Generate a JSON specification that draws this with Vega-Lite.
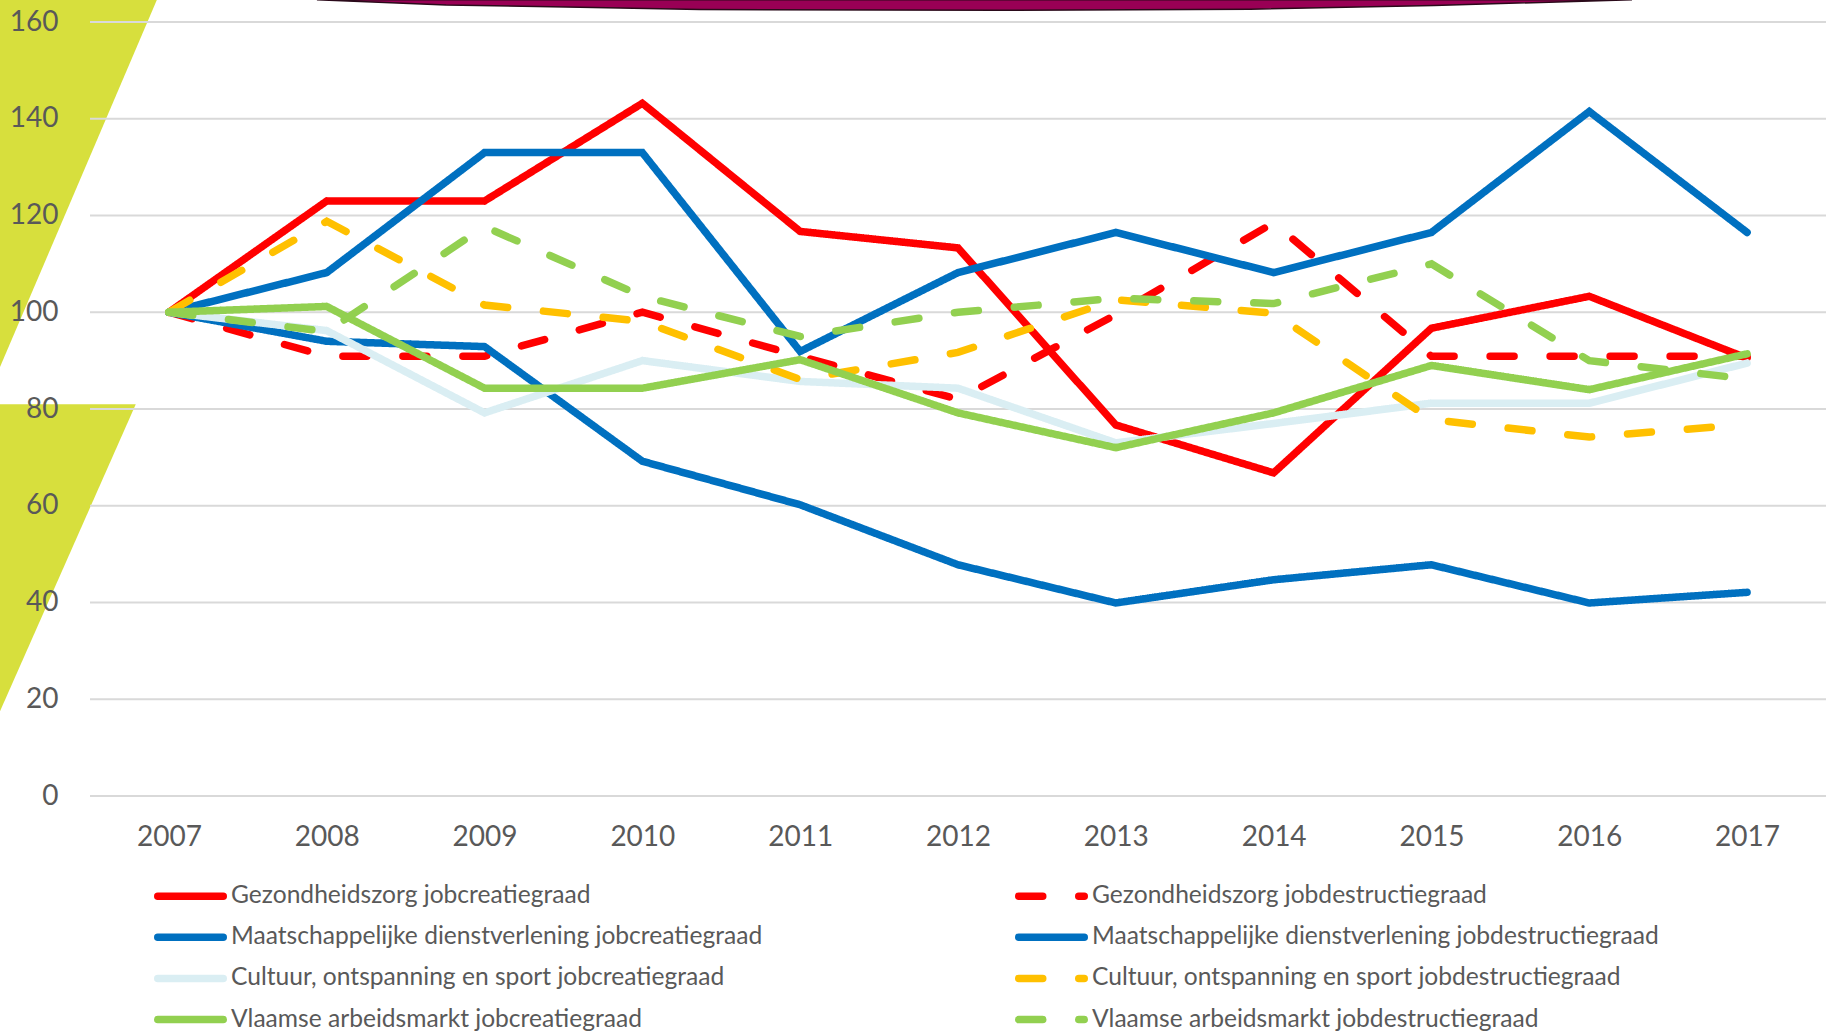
{
  "$schema": "https://vega.github.io/schema/vega-lite/v6.json",
  "width": 1736,
  "height": 774,
  "autosize": {"type": "none"},
  "padding": {"left": 90, "top": 22, "right": 0, "bottom": 237},
  "background": "white",
  "config": {"view": {"stroke": null}, "font": "Lato"},
  "datasets": {
    "rates": [
      {"year": 2007, "series": "Gezondheidszorg jobcreatiegraad", "value": 100},
      {"year": 2008, "series": "Gezondheidszorg jobcreatiegraad", "value": 123.0},
      {"year": 2009, "series": "Gezondheidszorg jobcreatiegraad", "value": 123.0},
      {"year": 2010, "series": "Gezondheidszorg jobcreatiegraad", "value": 143.2},
      {"year": 2011, "series": "Gezondheidszorg jobcreatiegraad", "value": 116.7},
      {"year": 2012, "series": "Gezondheidszorg jobcreatiegraad", "value": 113.3},
      {"year": 2013, "series": "Gezondheidszorg jobcreatiegraad", "value": 76.7},
      {"year": 2014, "series": "Gezondheidszorg jobcreatiegraad", "value": 66.8},
      {"year": 2015, "series": "Gezondheidszorg jobcreatiegraad", "value": 96.7},
      {"year": 2016, "series": "Gezondheidszorg jobcreatiegraad", "value": 103.3},
      {"year": 2017, "series": "Gezondheidszorg jobcreatiegraad", "value": 90.5},
      {"year": 2007, "series": "Gezondheidszorg jobdestructiegraad", "value": 100},
      {"year": 2008, "series": "Gezondheidszorg jobdestructiegraad", "value": 90.9},
      {"year": 2009, "series": "Gezondheidszorg jobdestructiegraad", "value": 90.9},
      {"year": 2010, "series": "Gezondheidszorg jobdestructiegraad", "value": 100.0},
      {"year": 2011, "series": "Gezondheidszorg jobdestructiegraad", "value": 90.9},
      {"year": 2012, "series": "Gezondheidszorg jobdestructiegraad", "value": 82.0},
      {"year": 2013, "series": "Gezondheidszorg jobdestructiegraad", "value": 99.5},
      {"year": 2014, "series": "Gezondheidszorg jobdestructiegraad", "value": 118.5},
      {"year": 2015, "series": "Gezondheidszorg jobdestructiegraad", "value": 90.9},
      {"year": 2016, "series": "Gezondheidszorg jobdestructiegraad", "value": 90.9},
      {"year": 2017, "series": "Gezondheidszorg jobdestructiegraad", "value": 90.9},
      {"year": 2007, "series": "Maatschappelijke dienstverlening jobcreatiegraad", "value": 100},
      {"year": 2008, "series": "Maatschappelijke dienstverlening jobcreatiegraad", "value": 94.0},
      {"year": 2009, "series": "Maatschappelijke dienstverlening jobcreatiegraad", "value": 92.9},
      {"year": 2010, "series": "Maatschappelijke dienstverlening jobcreatiegraad", "value": 69.2},
      {"year": 2011, "series": "Maatschappelijke dienstverlening jobcreatiegraad", "value": 60.2},
      {"year": 2012, "series": "Maatschappelijke dienstverlening jobcreatiegraad", "value": 47.8},
      {"year": 2013, "series": "Maatschappelijke dienstverlening jobcreatiegraad", "value": 39.9},
      {"year": 2014, "series": "Maatschappelijke dienstverlening jobcreatiegraad", "value": 44.7},
      {"year": 2015, "series": "Maatschappelijke dienstverlening jobcreatiegraad", "value": 47.8},
      {"year": 2016, "series": "Maatschappelijke dienstverlening jobcreatiegraad", "value": 39.9},
      {"year": 2017, "series": "Maatschappelijke dienstverlening jobcreatiegraad", "value": 42.1},
      {"year": 2007, "series": "Maatschappelijke dienstverlening jobdestructiegraad", "value": 100},
      {"year": 2008, "series": "Maatschappelijke dienstverlening jobdestructiegraad", "value": 108.2},
      {"year": 2009, "series": "Maatschappelijke dienstverlening jobdestructiegraad", "value": 133.0},
      {"year": 2010, "series": "Maatschappelijke dienstverlening jobdestructiegraad", "value": 133.0},
      {"year": 2011, "series": "Maatschappelijke dienstverlening jobdestructiegraad", "value": 91.9},
      {"year": 2012, "series": "Maatschappelijke dienstverlening jobdestructiegraad", "value": 108.2},
      {"year": 2013, "series": "Maatschappelijke dienstverlening jobdestructiegraad", "value": 116.5},
      {"year": 2014, "series": "Maatschappelijke dienstverlening jobdestructiegraad", "value": 108.2},
      {"year": 2015, "series": "Maatschappelijke dienstverlening jobdestructiegraad", "value": 116.5},
      {"year": 2016, "series": "Maatschappelijke dienstverlening jobdestructiegraad", "value": 141.5},
      {"year": 2017, "series": "Maatschappelijke dienstverlening jobdestructiegraad", "value": 116.5},
      {"year": 2007, "series": "Cultuur, ontspanning en sport jobcreatiegraad", "value": 100},
      {"year": 2008, "series": "Cultuur, ontspanning en sport jobcreatiegraad", "value": 96.2},
      {"year": 2009, "series": "Cultuur, ontspanning en sport jobcreatiegraad", "value": 79.2},
      {"year": 2010, "series": "Cultuur, ontspanning en sport jobcreatiegraad", "value": 90.0},
      {"year": 2011, "series": "Cultuur, ontspanning en sport jobcreatiegraad", "value": 85.7},
      {"year": 2012, "series": "Cultuur, ontspanning en sport jobcreatiegraad", "value": 84.3},
      {"year": 2013, "series": "Cultuur, ontspanning en sport jobcreatiegraad", "value": 73.0},
      {"year": 2014, "series": "Cultuur, ontspanning en sport jobcreatiegraad", "value": 77.0},
      {"year": 2015, "series": "Cultuur, ontspanning en sport jobcreatiegraad", "value": 81.2},
      {"year": 2016, "series": "Cultuur, ontspanning en sport jobcreatiegraad", "value": 81.2},
      {"year": 2017, "series": "Cultuur, ontspanning en sport jobcreatiegraad", "value": 89.5},
      {"year": 2007, "series": "Cultuur, ontspanning en sport jobdestructiegraad", "value": 100},
      {"year": 2008, "series": "Cultuur, ontspanning en sport jobdestructiegraad", "value": 118.8},
      {"year": 2009, "series": "Cultuur, ontspanning en sport jobdestructiegraad", "value": 101.5},
      {"year": 2010, "series": "Cultuur, ontspanning en sport jobdestructiegraad", "value": 98.1},
      {"year": 2011, "series": "Cultuur, ontspanning en sport jobdestructiegraad", "value": 86.1},
      {"year": 2012, "series": "Cultuur, ontspanning en sport jobdestructiegraad", "value": 91.7},
      {"year": 2013, "series": "Cultuur, ontspanning en sport jobdestructiegraad", "value": 102.6},
      {"year": 2014, "series": "Cultuur, ontspanning en sport jobdestructiegraad", "value": 99.8},
      {"year": 2015, "series": "Cultuur, ontspanning en sport jobdestructiegraad", "value": 77.8},
      {"year": 2016, "series": "Cultuur, ontspanning en sport jobdestructiegraad", "value": 74.2},
      {"year": 2017, "series": "Cultuur, ontspanning en sport jobdestructiegraad", "value": 76.8},
      {"year": 2007, "series": "Vlaamse arbeidsmarkt jobcreatiegraad", "value": 100},
      {"year": 2008, "series": "Vlaamse arbeidsmarkt jobcreatiegraad", "value": 101.2},
      {"year": 2009, "series": "Vlaamse arbeidsmarkt jobcreatiegraad", "value": 84.3},
      {"year": 2010, "series": "Vlaamse arbeidsmarkt jobcreatiegraad", "value": 84.3},
      {"year": 2011, "series": "Vlaamse arbeidsmarkt jobcreatiegraad", "value": 90.2},
      {"year": 2012, "series": "Vlaamse arbeidsmarkt jobcreatiegraad", "value": 79.2},
      {"year": 2013, "series": "Vlaamse arbeidsmarkt jobcreatiegraad", "value": 72.0},
      {"year": 2014, "series": "Vlaamse arbeidsmarkt jobcreatiegraad", "value": 79.2},
      {"year": 2015, "series": "Vlaamse arbeidsmarkt jobcreatiegraad", "value": 89.0},
      {"year": 2016, "series": "Vlaamse arbeidsmarkt jobcreatiegraad", "value": 84.0},
      {"year": 2017, "series": "Vlaamse arbeidsmarkt jobcreatiegraad", "value": 91.4},
      {"year": 2007, "series": "Vlaamse arbeidsmarkt jobdestructiegraad", "value": 100},
      {"year": 2008, "series": "Vlaamse arbeidsmarkt jobdestructiegraad", "value": 96.0},
      {"year": 2009, "series": "Vlaamse arbeidsmarkt jobdestructiegraad", "value": 117.7},
      {"year": 2010, "series": "Vlaamse arbeidsmarkt jobdestructiegraad", "value": 103.3},
      {"year": 2011, "series": "Vlaamse arbeidsmarkt jobdestructiegraad", "value": 95.0},
      {"year": 2012, "series": "Vlaamse arbeidsmarkt jobdestructiegraad", "value": 100.0},
      {"year": 2013, "series": "Vlaamse arbeidsmarkt jobdestructiegraad", "value": 102.9},
      {"year": 2014, "series": "Vlaamse arbeidsmarkt jobdestructiegraad", "value": 101.8},
      {"year": 2015, "series": "Vlaamse arbeidsmarkt jobdestructiegraad", "value": 110.0},
      {"year": 2016, "series": "Vlaamse arbeidsmarkt jobdestructiegraad", "value": 90.0},
      {"year": 2017, "series": "Vlaamse arbeidsmarkt jobdestructiegraad", "value": 86.2}
    ],
    "gridlines": [
      {"v": 0}, {"v": 20}, {"v": 40}, {"v": 60}, {"v": 80},
      {"v": 100}, {"v": 120}, {"v": 140}, {"v": 160}
    ],
    "wedges": [
      {"shape": "a", "v": 164.6, "x0": 2005.9, "x1": 2006.924},
      {"shape": "a", "v": 86.4, "x0": 2005.9, "x1": 2005.9},
      {"shape": "b", "v": 81.0, "x0": 2005.9, "x1": 2006.79},
      {"shape": "b", "v": 15.3, "x0": 2005.9, "x1": 2005.9}
    ],
    "banner": [
      {"x": 2007.938, "b": 164.6, "t": 164.6},
      {"x": 2008.756, "b": 163.52, "t": 164.6},
      {"x": 2009.605, "b": 163.04, "t": 164.6},
      {"x": 2010.365, "b": 162.59, "t": 164.6},
      {"x": 2012.266, "b": 162.42, "t": 164.6},
      {"x": 2013.85, "b": 162.63, "t": 164.6},
      {"x": 2015.016, "b": 163.41, "t": 164.6},
      {"x": 2016.271, "b": 164.6, "t": 164.6}
    ]
  },
  "layer": [
    {
      "data": {"name": "wedges"},
      "mark": {"type": "area", "orient": "horizontal", "color": "#D7DF3D"},
      "encoding": {
        "y": {"field": "v", "type": "quantitative", "title": null, "scale": {"domain": [0, 160], "nice": false}},
        "x": {"field": "x0", "type": "quantitative", "title": null, "scale": {"domain": [2006.5, 2017.5], "nice": false, "zero": false}},
        "x2": {"field": "x1"},
        "detail": {"field": "shape", "type": "nominal"}
      }
    },
    {
      "data": {"name": "banner"},
      "mark": {"type": "area", "color": "#990055", "stroke": "#2a0a1a", "strokeWidth": 1.5},
      "encoding": {
        "x": {"field": "x", "type": "quantitative", "title": null, "scale": {"domain": [2006.5, 2017.5], "nice": false, "zero": false}},
        "y": {"field": "b", "type": "quantitative", "title": null, "scale": {"domain": [0, 160], "nice": false}},
        "y2": {"field": "t"}
      }
    },
    {
      "data": {"name": "gridlines"},
      "mark": {"type": "rule", "color": "#D9D9D9", "strokeWidth": 2},
      "encoding": {
        "y": {"field": "v", "type": "quantitative", "title": null, "scale": {"domain": [0, 160], "nice": false}}
      }
    },
    {
      "data": {"name": "rates"},
      "mark": {"type": "line", "strokeCap": "round"},
      "encoding": {
        "x": {
          "field": "year", "type": "quantitative", "title": null,
          "scale": {"domain": [2006.5, 2017.5], "nice": false, "zero": false},
          "axis": {
            "values": [2007, 2008, 2009, 2010, 2011, 2012, 2013, 2014, 2015, 2016, 2017],
            "format": "d", "title": null, "domain": false, "ticks": false, "tickSize": 0, "grid": false,
            "labelFont": "Lato", "labelFontSize": 28, "labelColor": "#595959", "labelPadding": 27,
            "labelFlush": false, "labelOverlap": false
          }
        },
        "y": {
          "field": "value", "type": "quantitative", "title": null,
          "scale": {"domain": [0, 160], "nice": false},
          "axis": {
            "values": [0, 20, 40, 60, 80, 100, 120, 140, 160],
            "title": null, "domain": false, "ticks": false, "tickSize": 0, "grid": false,
            "labelFont": "Lato", "labelFontSize": 28, "labelColor": "#595959", "labelPadding": 32,
            "zindex": 1
          }
        },
        "color": {
          "field": "series", "type": "nominal",
          "scale": {
            "domain": [
              "Gezondheidszorg jobcreatiegraad",
              "Maatschappelijke dienstverlening jobcreatiegraad",
              "Cultuur, ontspanning en sport jobcreatiegraad",
              "Vlaamse arbeidsmarkt jobcreatiegraad",
              "Gezondheidszorg jobdestructiegraad",
              "Maatschappelijke dienstverlening jobdestructiegraad",
              "Cultuur, ontspanning en sport jobdestructiegraad",
              "Vlaamse arbeidsmarkt jobdestructiegraad"
            ],
            "range": ["#FF0000", "#0070C0", "#DAEEF3", "#92D050", "#FF0000", "#0070C0", "#FFC000", "#92D050"]
          },
          "legend": {
            "title": null, "orient": "none", "legendX": 64, "legendY": 864,
            "columns": 2, "columnPadding": 252, "rowPadding": 16.2, "padding": 0,
            "symbolType": "stroke", "symbolSize": 4290, "symbolStrokeWidth": 7,
            "labelFont": "Lato", "labelFontSize": 24.6, "labelColor": "#595959",
            "labelOffset": 4, "labelLimit": 1000, "clipHeight": 20,
            "encode": {"symbols": {"update": {"strokeCap": {"value": "round"}}}}
          }
        },
        "strokeDash": {
          "field": "series", "type": "nominal",
          "scale": {
            "domain": [
              "Gezondheidszorg jobcreatiegraad",
              "Maatschappelijke dienstverlening jobcreatiegraad",
              "Cultuur, ontspanning en sport jobcreatiegraad",
              "Vlaamse arbeidsmarkt jobcreatiegraad",
              "Gezondheidszorg jobdestructiegraad",
              "Maatschappelijke dienstverlening jobdestructiegraad",
              "Cultuur, ontspanning en sport jobdestructiegraad",
              "Vlaamse arbeidsmarkt jobdestructiegraad"
            ],
            "range": [[1, 0], [1, 0], [1, 0], [1, 0], [24, 36], [1, 0], [24, 36], [24, 36]]
          }
        },
        "strokeWidth": {
          "field": "series", "type": "nominal",
          "scale": {
            "domain": [
              "Gezondheidszorg jobcreatiegraad",
              "Maatschappelijke dienstverlening jobcreatiegraad",
              "Cultuur, ontspanning en sport jobcreatiegraad",
              "Vlaamse arbeidsmarkt jobcreatiegraad",
              "Gezondheidszorg jobdestructiegraad",
              "Maatschappelijke dienstverlening jobdestructiegraad",
              "Cultuur, ontspanning en sport jobdestructiegraad",
              "Vlaamse arbeidsmarkt jobdestructiegraad"
            ],
            "range": [7.5, 7.5, 5.5, 7, 7, 4.5, 7, 7]
          },
          "legend": null
        }
      }
    }
  ]
}
